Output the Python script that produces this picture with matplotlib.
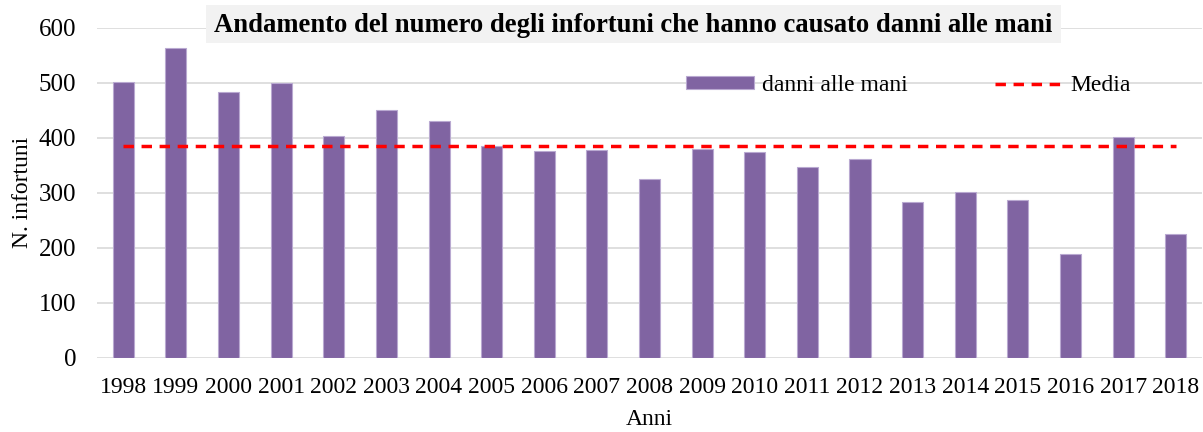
import matplotlib.pyplot as plt
from matplotlib.patches import Rectangle

# data
anni = ['1998', '1999', '2000', '2001', '2002', '2003', '2004', '2005', '2006', '2007', '2008',
        '2009', '2010', '2011', '2012', '2013', '2014', '2015', '2016', '2017', '2018']
danni_mani = [502, 563, 484, 499, 403, 451, 430, 386, 377, 378, 326,
              380, 375, 347, 362, 283, 301, 287, 188, 402, 225]
media = [386] * len(anni)

plt.rcParams['font.family'] = ['Liberation Serif', 'DejaVu Serif']

fig = plt.figure(figsize=(12.03, 4.32), dpi=100)
ax = fig.add_axes([97 / 1203, (432 - 357.7) / 432, (1202 - 97) / 1203, (357.7 - 28) / 432])

x = list(range(len(anni)))
barre = ax.bar(x, danni_mani, width=0.4, color='#8064a2', edgecolor='#b9a9d1', linewidth=0.8,
               label='danni alle mani', zorder=3)
linea, = ax.plot(x, media, color='#ff0000', linestyle=(0, (3.0, 2.2)), linewidth=2.5, label='Media', zorder=4)

ax.set_xlim(-0.5, len(anni) - 0.5)
ax.set_ylim(0, 600)
ax.set_yticks(range(0, 601, 100))
ax.set_xticks(x)
ax.set_xticklabels(anni)
ax.tick_params(axis='x', length=0, labelsize=17, pad=14)
ax.tick_params(axis='y', length=0, labelsize=18, pad=15)
ax.grid(axis='y', color='#d9d9d9', linewidth=1.2, zorder=0)
for s in ax.spines.values():
    s.set_visible(False)

ax.set_xlabel('Anni', fontsize=17, labelpad=8)
ax.set_ylabel('N. infortuni', fontsize=17)
ax.yaxis.set_label_coords(-0.058, 0.5)

ax.legend(handles=[barre, linea], loc='center left', bbox_to_anchor=(0.533, 0.825), ncol=2,
          frameon=False, fontsize=17, handlelength=2.9, handleheight=0.45, columnspacing=3.7,
          handletextpad=0.3, borderpad=0, borderaxespad=0)

# title in a grey box
fig.patches.append(Rectangle((206 / 1203, 1 - 43 / 432), (1061 - 206) / 1203, 38 / 432,
                             transform=fig.transFigure, facecolor='#f2f2f2', edgecolor='none', zorder=5))
fig.text(633 / 1203, 1 - 25 / 432, 'Andamento del numero degli infortuni che hanno causato danni alle mani',
         ha='center', va='center', fontsize=19.2, fontweight='bold', zorder=6)

plt.savefig('out.png', dpi=100)
